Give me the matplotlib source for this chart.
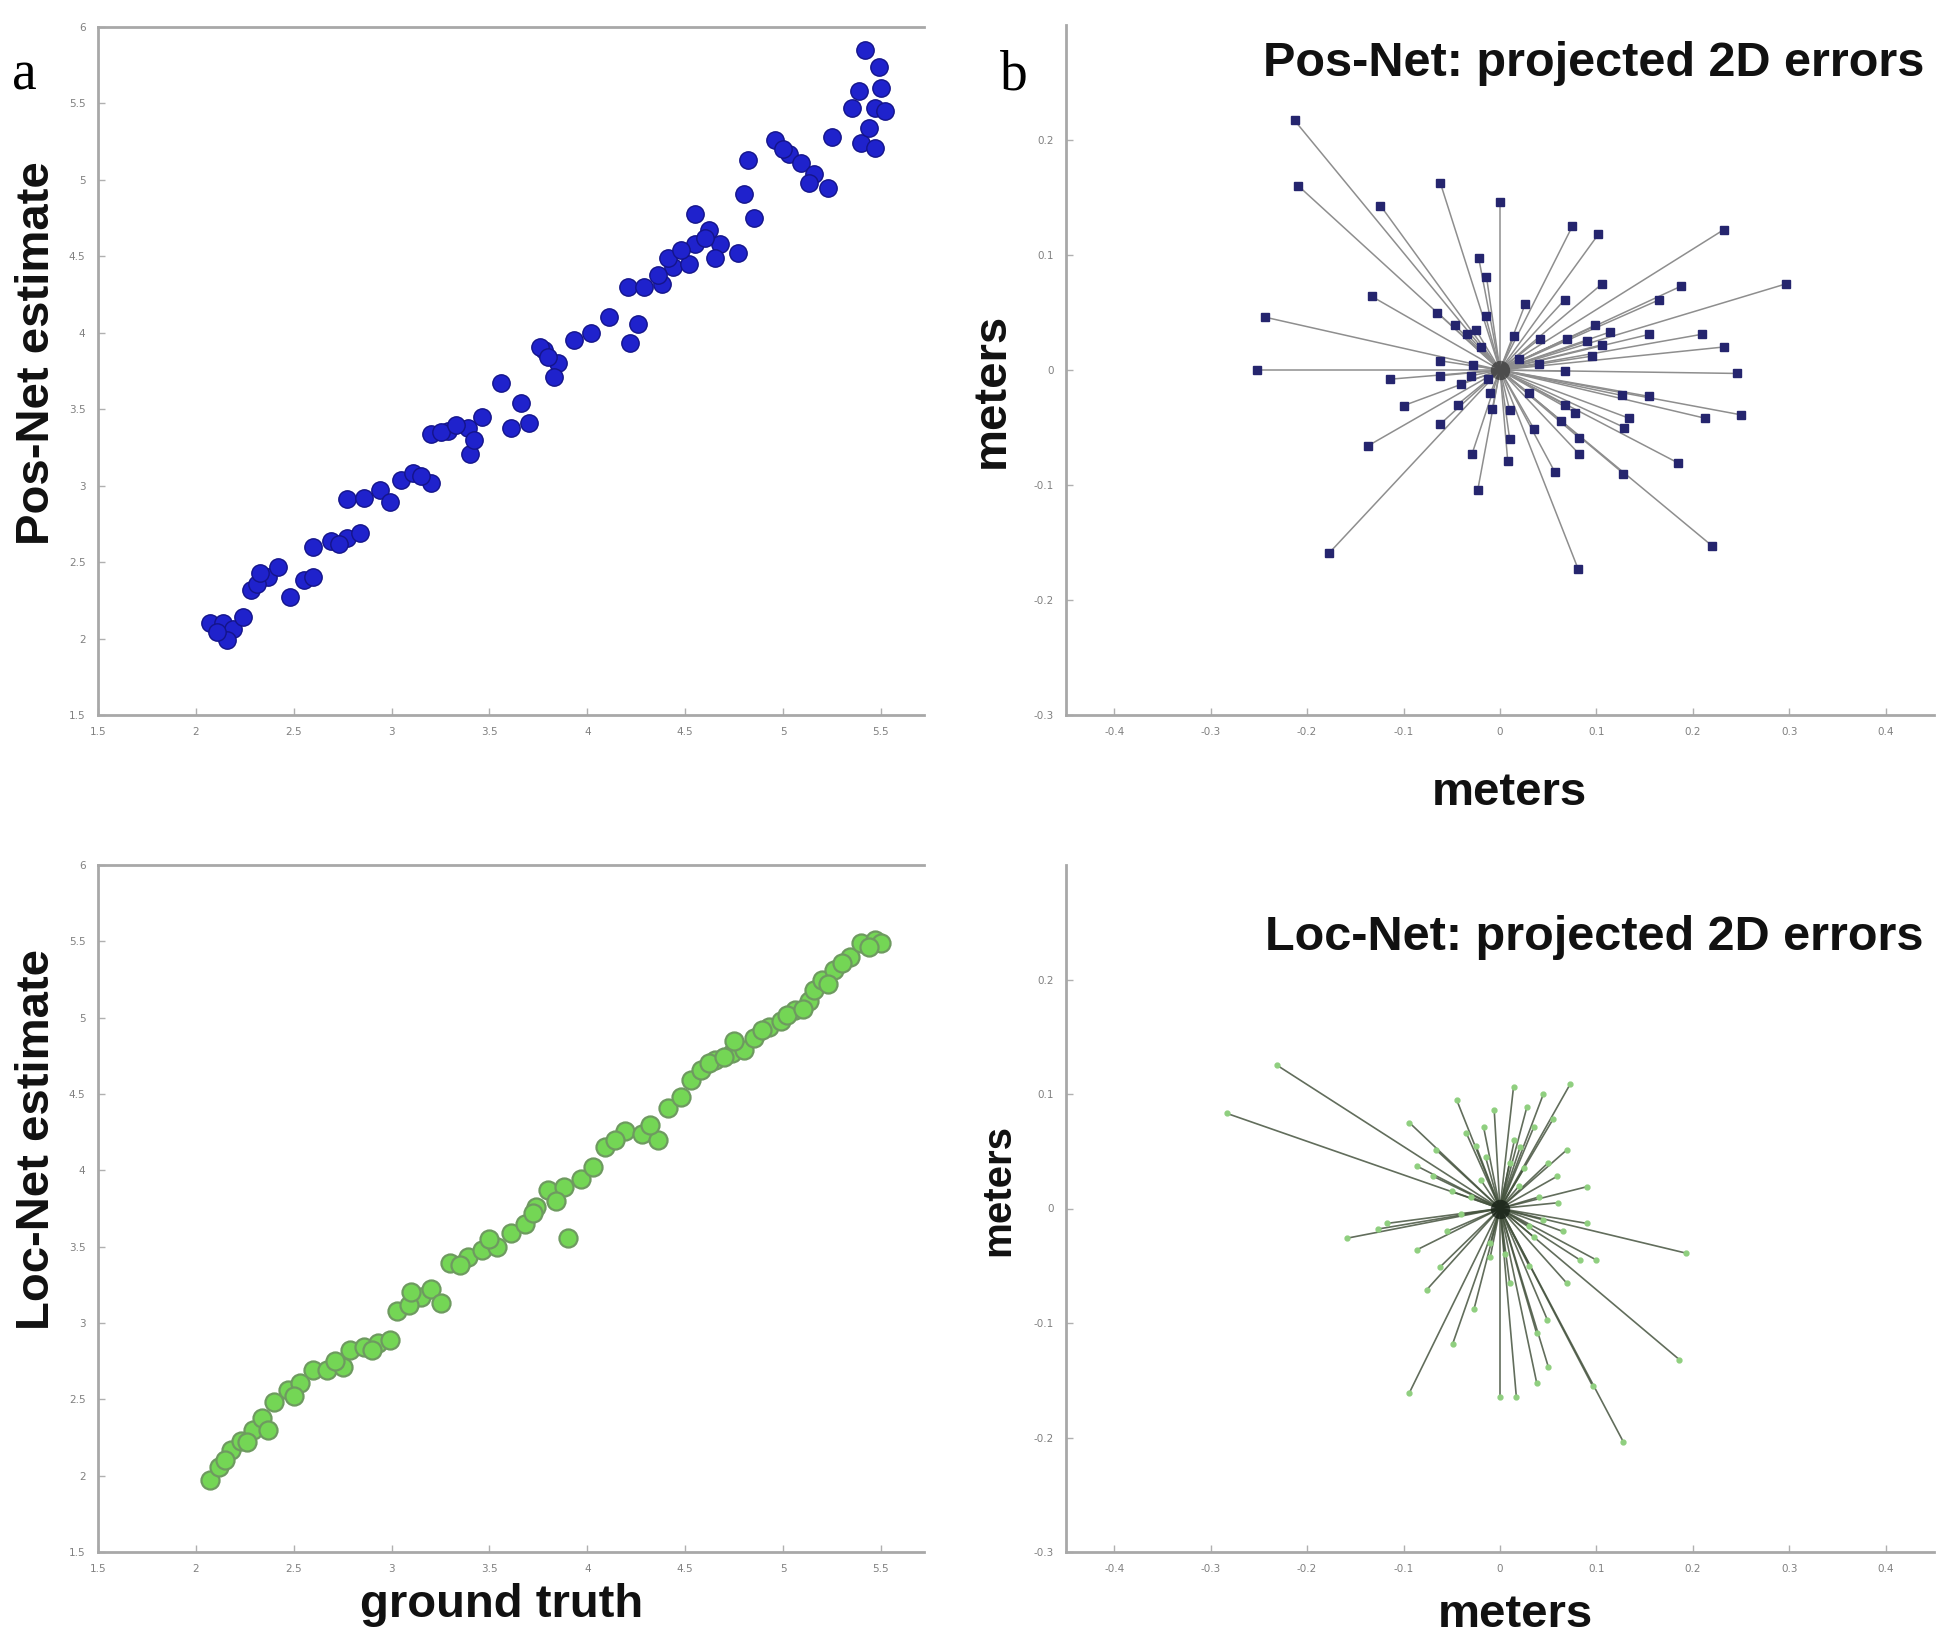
import matplotlib
matplotlib.use("Agg")
import matplotlib.pyplot as plt
import numpy as np

# ---------------- data ----------------
# panel a (top): Pos-Net estimate vs ground truth
pos_gt = [2.07, 2.14, 2.19, 2.24, 2.16, 2.28, 2.37, 2.42, 2.48, 2.55, 2.60, 2.60, 2.69, 2.77, 2.84,
          2.77, 2.86, 2.94, 2.99, 3.05, 3.11, 3.20, 3.20, 3.29, 3.39, 3.46, 3.40, 3.42, 3.56, 3.66,
          3.61, 3.70, 3.78, 3.85, 3.83, 3.76, 3.93, 4.02, 4.11, 4.26, 4.22, 4.21, 4.29, 4.38, 4.44,
          4.41, 4.52, 4.55, 4.62, 4.55, 4.68, 4.77, 4.65, 4.80, 4.85, 4.82, 4.96, 5.03, 5.09, 5.16,
          5.23, 5.13, 5.25, 5.42, 5.49, 5.39, 5.35, 5.47, 5.52, 5.40, 5.47, 5.44, 2.11, 2.31, 3.25,
          2.33, 2.73, 3.15, 3.33, 3.80, 4.36, 4.48, 4.60, 5.00, 5.50]
pos_est = [2.10, 2.10, 2.06, 2.14, 1.99, 2.32, 2.40, 2.47, 2.27, 2.38, 2.40, 2.60, 2.64, 2.66, 2.69,
           2.91, 2.92, 2.97, 2.89, 3.04, 3.08, 3.02, 3.34, 3.36, 3.38, 3.45, 3.21, 3.30, 3.67, 3.54,
           3.38, 3.41, 3.89, 3.80, 3.71, 3.91, 3.95, 4.00, 4.10, 4.06, 3.93, 4.30, 4.30, 4.32, 4.43,
           4.49, 4.45, 4.58, 4.67, 4.78, 4.58, 4.52, 4.49, 4.91, 4.75, 5.13, 5.26, 5.17, 5.11, 5.04,
           4.95, 4.98, 5.28, 5.85, 5.74, 5.58, 5.47, 5.47, 5.45, 5.24, 5.21, 5.34, 2.04, 2.36, 3.35,
           2.43, 2.62, 3.06, 3.40, 3.84, 4.38, 4.54, 4.62, 5.20, 5.60]

# panel a (bottom): Loc-Net estimate vs ground truth
loc_gt = [2.07, 2.12, 2.18, 2.23, 2.29, 2.34, 2.40, 2.47, 2.53, 2.60, 2.67, 2.75, 2.79, 2.86, 2.93,
          2.99, 3.03, 3.15, 3.20, 3.25, 3.30, 3.39, 3.46, 3.54, 3.61, 3.68, 3.80, 3.88, 3.97, 3.90,
          4.03, 4.09, 4.19, 4.28, 4.36, 4.41, 4.48, 4.53, 4.58, 4.65, 4.74, 4.80, 4.75, 4.85, 4.93,
          4.99, 5.06, 5.13, 5.16, 5.20, 5.26, 5.34, 5.40, 5.47, 5.50, 3.09, 3.74,
          2.15, 2.26, 2.37, 2.50, 2.71, 2.90, 3.10, 3.35, 3.50, 3.72, 3.84, 4.14, 4.32, 4.62, 4.70,
          4.89, 5.02, 5.10, 5.23, 5.30, 5.44]
loc_est = [1.97, 2.06, 2.17, 2.23, 2.30, 2.38, 2.48, 2.56, 2.61, 2.69, 2.69, 2.71, 2.82, 2.84, 2.87,
           2.89, 3.08, 3.17, 3.22, 3.13, 3.39, 3.43, 3.48, 3.50, 3.59, 3.65, 3.87, 3.89, 3.94, 3.56,
           4.02, 4.15, 4.26, 4.24, 4.20, 4.41, 4.48, 4.59, 4.66, 4.72, 4.77, 4.79, 4.85, 4.87, 4.94,
           4.98, 5.05, 5.11, 5.18, 5.25, 5.31, 5.40, 5.49, 5.51, 5.49, 3.12, 3.76,
           2.10, 2.22, 2.30, 2.52, 2.75, 2.82, 3.20, 3.38, 3.55, 3.72, 3.80, 4.20, 4.30, 4.70, 4.74,
           4.92, 5.02, 5.06, 5.22, 5.36, 5.46]

# panel b (top): Pos-Net projected 2D errors (meters)
pos_dx = [-0.213, -0.209, -0.124, -0.062, 0.000, 0.075, 0.102, 0.232, 0.297, -0.244, -0.252, -0.133,
          -0.022, -0.014, -0.065, -0.015, 0.026, 0.067, 0.106, 0.188, 0.165, 0.209, 0.232, 0.246,
          0.250, 0.213, 0.185, 0.220, 0.081, -0.023, -0.177, -0.137, -0.100, -0.114, -0.062, -0.062,
          -0.062, -0.044, -0.029, 0.008, 0.010, -0.008, 0.057, 0.035, 0.082, 0.082, 0.128, 0.129,
          0.126, 0.155, 0.067, 0.063, 0.078, 0.099, 0.106, 0.114, 0.155, 0.067, 0.041, 0.069,
          -0.034, -0.047, -0.028, -0.012, 0.134,
          0.020, -0.020, 0.030, -0.010, 0.015, -0.030, 0.040, 0.010, -0.025, 0.090, 0.095, -0.040]
pos_dy = [0.217, 0.160, 0.143, 0.163, 0.146, 0.125, 0.118, 0.122, 0.075, 0.046, 0.000, 0.064,
          0.097, 0.081, 0.050, 0.047, 0.057, 0.061, 0.075, 0.073, 0.061, 0.031, 0.020, -0.003,
          -0.039, -0.042, -0.081, -0.153, -0.173, -0.104, -0.159, -0.066, -0.031, -0.008, -0.047, 0.008,
          -0.005, -0.030, -0.073, -0.079, -0.060, -0.034, -0.089, -0.051, -0.073, -0.059, -0.090, -0.050,
          -0.022, -0.023, -0.030, -0.044, -0.037, 0.039, 0.022, 0.033, 0.031, -0.001, 0.027, 0.027,
          0.031, 0.039, 0.004, -0.008, -0.042,
          0.010, 0.020, -0.020, -0.020, 0.030, -0.005, 0.005, -0.035, 0.035, 0.025, 0.012, -0.012]

# panel b (bottom): Loc-Net projected 2D errors (meters)
loc_dx = [-0.231, -0.283, -0.159, -0.094, 0.000, 0.017, 0.128, 0.186, 0.193, 0.096, 0.050, -0.045,
          0.014, 0.045, 0.073, -0.094, -0.066, 0.069, 0.090, 0.083, 0.100, 0.069, -0.076, -0.086,
          -0.062, -0.027, 0.049, 0.038, -0.035, -0.017, 0.035, 0.055, -0.006, 0.028, -0.117, -0.127,
          0.090, 0.038, -0.049, 0.010, -0.010, 0.059, -0.069, -0.086, 0.021, 0.035,
          0.020, -0.020, 0.030, -0.030, 0.010, -0.010, 0.040, -0.040, 0.025, -0.015, 0.005, 0.045,
          -0.050, 0.060, -0.055, 0.015, 0.030, -0.025, 0.050, 0.065]
loc_dy = [0.125, 0.083, -0.026, -0.161, -0.165, -0.165, -0.204, -0.132, -0.039, -0.155, -0.138, 0.095,
          0.106, 0.100, 0.109, 0.075, 0.051, 0.051, 0.019, -0.045, -0.045, -0.065, -0.071, -0.036,
          -0.051, -0.088, -0.097, -0.109, 0.066, 0.071, 0.071, 0.078, 0.086, 0.089, -0.013, -0.018,
          -0.013, -0.152, -0.118, -0.065, -0.042, 0.028, 0.028, 0.037, 0.054, -0.025,
          0.020, 0.025, -0.015, 0.010, 0.040, -0.030, 0.010, -0.005, 0.035, 0.045, -0.040, -0.010,
          0.015, 0.005, -0.020, 0.060, -0.050, 0.055, 0.040, -0.020]

est_ticks = [1.5, 2, 2.5, 3, 3.5, 4, 4.5, 5, 5.5, 6]
gt_ticks = [1.5, 2, 2.5, 3, 3.5, 4, 4.5, 5, 5.5]
err_xticks = [-0.4, -0.3, -0.2, -0.1, 0, 0.1, 0.2, 0.3, 0.4]
err_yticks = [-0.3, -0.2, -0.1, 0, 0.1, 0.2]

# ---------------- layout ----------------
W, H = 1944, 1641
fig = plt.figure(figsize=(W / 100, H / 100), dpi=100)
fig.patch.set_facecolor("white")


def ax_at(l, r, b, t):
    return fig.add_axes([l / W, 1 - b / H, (r - l) / W, (b - t) / H])


def fmt(v):
    return "%g" % v


def style(ax, top_spine):
    ax.spines["right"].set_visible(False)
    ax.spines["top"].set_visible(top_spine)
    for side in ["left", "bottom", "top"]:
        ax.spines[side].set_color("#a8a8a8")
        ax.spines[side].set_linewidth(2.0)
    ax.tick_params(direction="in", length=5, width=1, color="#b0b0b0",
                   labelsize=7.5, labelcolor="#808080", pad=9)


LABFONT = ["Liberation Sans", "DejaVu Sans"]

# top-left
ax1 = ax_at(98, 924, 715, 27)
ax1.plot(pos_gt, pos_est, linestyle="none", marker="o", ms=12.5,
         mfc="#1f22cc", mec="#14148a", mew=1.0)
ax1.set_xlim(1.5, 5.72)
ax1.set_ylim(1.5, 6)
ax1.set_xticks(gt_ticks)
ax1.set_xticklabels([fmt(v) for v in gt_ticks])
ax1.set_yticks(est_ticks)
ax1.set_yticklabels([fmt(v) for v in est_ticks])
style(ax1, True)

# bottom-left
ax2 = ax_at(98, 924, 1552, 865)
ax2.plot(loc_gt, loc_est, linestyle="none", marker="o", ms=13,
         mfc="#74d655", mec="#6e9a60", mew=1.6)
ax2.set_xlim(1.5, 5.72)
ax2.set_ylim(1.5, 6)
ax2.set_xticks(gt_ticks)
ax2.set_xticklabels([fmt(v) for v in gt_ticks])
ax2.set_yticks(est_ticks)
ax2.set_yticklabels([fmt(v) for v in est_ticks])
style(ax2, True)

# top-right
ax3 = ax_at(1066, 1934, 715, 25)
for dx, dy in zip(pos_dx, pos_dy):
    ax3.plot([0, dx], [0, dy], color="#8e8e8e", lw=1.1, zorder=1)
ax3.plot(pos_dx, pos_dy, linestyle="none", marker="s", ms=6,
         mfc="#25256e", mec="#25256e", zorder=3)
ax3.plot([0], [0], linestyle="none", marker="o", ms=14, mfc="#202020",
         mec="none", alpha=0.6, zorder=2)
ax3.set_xlim(-0.45, 0.45)
ax3.set_ylim(-0.3, 0.3)
ax3.set_xticks(err_xticks)
ax3.set_xticklabels([fmt(v) for v in err_xticks])
ax3.set_yticks(err_yticks)
ax3.set_yticklabels([fmt(v) for v in err_yticks])
style(ax3, False)

# bottom-right
ax4 = ax_at(1066, 1934, 1552, 865)
for dx, dy in zip(loc_dx, loc_dy):
    ax4.plot([0, dx], [0, dy], color="#46543f", lw=1.2, alpha=0.85, zorder=1)
ax4.plot(loc_dx, loc_dy, linestyle="none", marker="o", ms=3.5,
         mfc="#8fcf7f", mec="#8fcf7f", zorder=3)
ax4.plot([0], [0], linestyle="none", marker="o", ms=14, mfc="#101a10",
         mec="none", alpha=0.7, zorder=2)
ax4.set_xlim(-0.45, 0.45)
ax4.set_ylim(-0.3, 0.3)
ax4.set_xticks(err_xticks)
ax4.set_xticklabels([fmt(v) for v in err_xticks])
ax4.set_yticks(err_yticks)
ax4.set_yticklabels([fmt(v) for v in err_yticks])
style(ax4, False)


def ftext(x, y, s, **kw):
    fig.text(x / W, 1 - y / H, s, **kw)


lab = dict(family=LABFONT, fontweight="bold", fontsize=34, color="#111111",
           ha="center", va="center")
ftext(37, 353, "Pos-Net estimate", rotation=90, **lab)
ftext(37, 1140, "Loc-Net estimate", rotation=90, **lab)
ftext(502, 1605, "ground truth", **lab)
ftext(1509, 793, "meters", **lab)
ftext(992, 390, "meters", rotation=90, **lab)
lab_small = dict(lab)
lab_small["fontsize"] = 29
ftext(998, 1190, "meters", rotation=90, **lab_small)
ftext(1515, 1615, "meters", **lab)
lab_t = dict(lab)
lab_t["fontsize"] = 35
ftext(1594, 64, "Pos-Net: projected 2D errors", **lab_t)
ftext(1594, 938, "Loc-Net: projected 2D errors", **lab_t)

ftext(12, 75, "a", family=["Liberation Serif", "DejaVu Serif"], fontsize=40,
      ha="left", va="center", color="black")
ftext(1000, 75, "b", family=["Liberation Serif", "DejaVu Serif"], fontsize=40,
      ha="left", va="center", color="black")

fig.savefig("out.png", dpi=100, facecolor="white")
